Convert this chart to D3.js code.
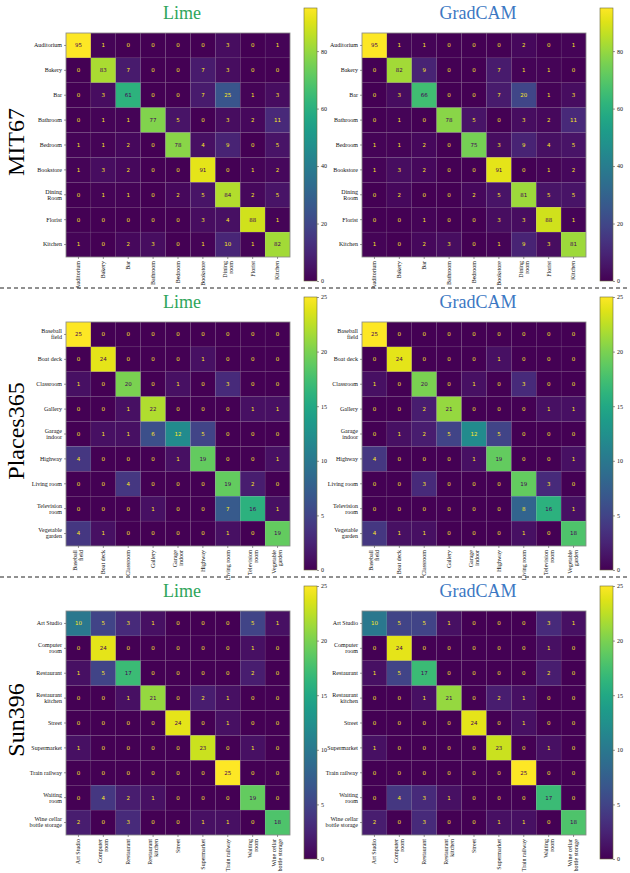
<!DOCTYPE html>
<html>
<head>
<meta charset="utf-8">
<script src="https://cdn.jsdelivr.net/npm/d3@7"></script>
<style>
  body { margin: 0; background: #fff; }
  svg { display: block; }
</style>
</head>
<body>
<div id="chart"></div>
<script>
const W = 630, H = 873;

// labels
const mitRowLabels = ["Auditorium", "Bakery", "Bar", "Bathroom", "Bedroom", "Bookstore", "Dining\nRoom", "Florist", "Kitchen"];
const mitColLabels = ["Auditorium", "Bakery", "Bar", "Bathroom", "Bedroom", "Bookstore", "Dining\nroom", "Florist", "Kitchen"];
const placesLabels = ["Baseball\nfield", "Boat deck", "Classroom", "Gallery", "Garage\nindoor", "Highway", "Living room", "Television\nroom", "Vegetable\ngarden"];
const sunLabels = ["Art Studio", "Computer\nroom", "Restaurant", "Restaurant\nkitchen", "Street", "Supermarket", "Train railway", "Waiting\nroom", "Wine cellar\nbottle storage"];

// confusion matrices
const mitLime = [
  [95, 1, 0, 0, 0, 0, 3, 0, 1],
  [0, 83, 7, 0, 0, 7, 3, 0, 0],
  [0, 3, 61, 0, 0, 7, 25, 1, 3],
  [0, 1, 1, 77, 5, 0, 3, 2, 11],
  [1, 1, 2, 0, 78, 4, 9, 0, 5],
  [1, 3, 2, 0, 0, 91, 0, 1, 2],
  [0, 1, 1, 0, 2, 5, 84, 2, 5],
  [0, 0, 0, 0, 0, 3, 4, 88, 1],
  [1, 0, 2, 3, 0, 1, 10, 1, 82]
];
const mitGradcam = [
  [95, 1, 1, 0, 0, 0, 2, 0, 1],
  [0, 82, 9, 0, 0, 7, 1, 1, 0],
  [0, 3, 66, 0, 0, 7, 20, 1, 3],
  [0, 1, 0, 78, 5, 0, 3, 2, 11],
  [1, 1, 2, 0, 75, 3, 9, 4, 5],
  [1, 3, 2, 0, 0, 91, 0, 1, 2],
  [0, 2, 0, 0, 2, 5, 81, 5, 5],
  [0, 0, 1, 0, 0, 3, 3, 88, 1],
  [1, 0, 2, 3, 0, 1, 9, 3, 81]
];
const placesLime = [
  [25, 0, 0, 0, 0, 0, 0, 0, 0],
  [0, 24, 0, 0, 0, 1, 0, 0, 0],
  [1, 0, 20, 0, 1, 0, 3, 0, 0],
  [0, 0, 1, 22, 0, 0, 0, 1, 1],
  [0, 1, 1, 6, 12, 5, 0, 0, 0],
  [4, 0, 0, 0, 1, 19, 0, 0, 1],
  [0, 0, 4, 0, 0, 0, 19, 2, 0],
  [0, 0, 0, 1, 0, 0, 7, 16, 1],
  [4, 1, 0, 0, 0, 0, 1, 0, 19]
];
const placesGradcam = [
  [25, 0, 0, 0, 0, 0, 0, 0, 0],
  [0, 24, 0, 0, 0, 1, 0, 0, 0],
  [1, 0, 20, 0, 1, 0, 3, 0, 0],
  [0, 0, 2, 21, 0, 0, 0, 1, 1],
  [0, 1, 2, 5, 12, 5, 0, 0, 0],
  [4, 0, 0, 0, 1, 19, 0, 0, 1],
  [0, 0, 3, 0, 0, 0, 19, 3, 0],
  [0, 0, 0, 0, 0, 0, 8, 16, 1],
  [4, 1, 1, 0, 0, 0, 1, 0, 18]
];
const sunLime = [
  [10, 5, 3, 1, 0, 0, 0, 5, 1],
  [0, 24, 0, 0, 0, 0, 0, 1, 0],
  [1, 5, 17, 0, 0, 0, 0, 2, 0],
  [0, 0, 1, 21, 0, 2, 1, 0, 0],
  [0, 0, 0, 0, 24, 0, 1, 0, 0],
  [1, 0, 0, 0, 0, 23, 0, 1, 0],
  [0, 0, 0, 0, 0, 0, 25, 0, 0],
  [0, 4, 2, 1, 0, 0, 0, 19, 0],
  [2, 0, 3, 0, 0, 1, 1, 0, 18]
];
const sunGradcam = [
  [10, 5, 5, 1, 0, 0, 0, 3, 1],
  [0, 24, 0, 0, 0, 0, 0, 1, 0],
  [1, 5, 17, 0, 0, 0, 0, 2, 0],
  [0, 0, 1, 21, 0, 2, 1, 0, 0],
  [0, 0, 0, 0, 24, 0, 1, 0, 0],
  [1, 0, 0, 0, 0, 23, 0, 1, 0],
  [0, 0, 0, 0, 0, 0, 25, 0, 0],
  [0, 4, 3, 1, 0, 0, 0, 17, 0],
  [2, 0, 3, 0, 0, 1, 1, 0, 18]
];

const methods = ["Lime", "GradCAM"];
const methodColors = ["#2ea55a", "#3c78c3"];
const colorbarMax = [95, 25, 25];
const colorbarTicks = [[0, 20, 40, 60, 80], [0, 5, 10, 15, 20, 25], [0, 5, 10, 15, 20, 25]];

const rows = [
  {name: "MIT67", rowLabels: mitRowLabels, colLabels: mitColLabels, mats: [mitLime, mitGradcam]},
  {name: "Places365", rowLabels: placesLabels, colLabels: placesLabels, mats: [placesLime, placesGradcam]},
  {name: "Sun396", rowLabels: sunLabels, colLabels: sunLabels, mats: [sunLime, sunGradcam]}
];

const size = 224;
const tops = [33, 322, 611];
const lefts = [66, 362];
const cbLefts = [304, 600];
const serif = "'Liberation Serif', 'DejaVu Serif', serif";

const svg = d3.select("#chart").append("svg")
  .attr("width", W)
  .attr("height", H);

// viridis gradient for colorbars
const grad = svg.append("defs").append("linearGradient")
  .attr("id", "viridis")
  .attr("x1", 0).attr("y1", 1).attr("x2", 0).attr("y2", 0);
d3.range(0, 1.0001, 0.05).forEach(t => {
  grad.append("stop").attr("offset", t).attr("stop-color", d3.interpolateViridis(t));
});

// multi-line tick labels
function splitLines(textSel, labels, xPos) {
  textSel.each(function(d) {
    const t = d3.select(this);
    const lines = labels[d].split("\n");
    t.text(null);
    lines.forEach((line, i) => {
      t.append("tspan")
        .attr("x", xPos)
        .attr("dy", i === 0 ? (0.32 - (lines.length - 1) * 0.5) + "em" : "1.0em")
        .text(line);
    });
  });
}

rows.forEach((row, r) => {
  const top = tops[r];
  const vmax = colorbarMax[r];
  const color = d3.scaleSequential(d3.interpolateViridis).domain([0, vmax]);

  row.mats.forEach((mat, m) => {
    const left = lefts[m];
    const g = svg.append("g").attr("transform", `translate(${left},${top})`);

    const x = d3.scaleBand().domain(d3.range(9)).range([0, size]);
    const y = d3.scaleBand().domain(d3.range(9)).range([0, size]);

    const cells = [];
    mat.forEach((rowVals, i) => rowVals.forEach((v, j) => cells.push({i, j, v})));

    g.selectAll("rect.cell")
      .data(cells)
      .join("rect")
      .attr("class", "cell")
      .attr("x", d => x(d.j))
      .attr("y", d => y(d.i))
      .attr("width", x.bandwidth())
      .attr("height", y.bandwidth())
      .attr("fill", d => color(d.v))
      .attr("stroke", "rgba(150,150,150,0.18)")
      .attr("stroke-width", 0.5);

    g.selectAll("text.val")
      .data(cells)
      .join("text")
      .attr("class", "val")
      .attr("x", d => x(d.j) + x.bandwidth() / 2)
      .attr("y", d => y(d.i) + y.bandwidth() / 2)
      .attr("dy", "0.35em")
      .attr("text-anchor", "middle")
      .style("font-family", "'DejaVu Sans', sans-serif")
      .style("font-size", "5.5px")
      .attr("fill", d => d.v > vmax / 2 ? "#440154" : "#fde725")
      .text(d => d.v);

    // frame
    g.append("rect")
      .attr("width", size).attr("height", size)
      .attr("fill", "none")
      .attr("stroke", "#8a8a8a")
      .attr("stroke-width", 0.8);

    // y axis
    const yAxis = g.append("g")
      .call(d3.axisLeft(y).tickSize(2));
    yAxis.select(".domain").remove();
    yAxis.selectAll("line").attr("stroke", "#333").attr("stroke-width", 0.5);
    yAxis.selectAll("text")
      .style("font-family", serif)
      .style("font-size", "6px")
      .attr("fill", "#111")
      .call(splitLines, row.rowLabels, -4);

    // x axis, rotated labels
    const xAxis = g.append("g")
      .attr("transform", `translate(0,${size})`)
      .call(d3.axisBottom(x).tickSize(2));
    xAxis.select(".domain").remove();
    xAxis.selectAll("line").attr("stroke", "#333").attr("stroke-width", 0.5);
    xAxis.selectAll("text")
      .attr("transform", "rotate(-90)")
      .attr("y", 0)
      .attr("dy", null)
      .style("text-anchor", "end")
      .style("font-family", serif)
      .style("font-size", "6px")
      .attr("fill", "#111")
      .call(splitLines, row.colLabels, -4);

    // title
    svg.append("text")
      .attr("x", left + size / 2 + 4)
      .attr("y", top - 14)
      .attr("text-anchor", "middle")
      .style("font-family", serif)
      .style("font-size", "18px")
      .attr("fill", methodColors[m])
      .text(methods[m]);

    // colorbar
    const cbTop = top - 25, cbBottom = top + size + 24, cbW = 13;
    const cb = svg.append("g").attr("transform", `translate(${cbLefts[m]},0)`);
    cb.append("rect")
      .attr("y", cbTop)
      .attr("width", cbW)
      .attr("height", cbBottom - cbTop)
      .attr("fill", "url(#viridis)")
      .attr("stroke", "#6b6b3a")
      .attr("stroke-width", 0.6);
    const cbScale = d3.scaleLinear().domain([0, vmax]).range([cbBottom, cbTop]);
    const cbAxis = cb.append("g")
      .attr("transform", `translate(${cbW},0)`)
      .call(d3.axisRight(cbScale).tickValues(colorbarTicks[r]).tickSize(2).tickPadding(2));
    cbAxis.select(".domain").remove();
    cbAxis.selectAll("line").attr("stroke", "#333").attr("stroke-width", 0.5);
    cbAxis.selectAll("text")
      .style("font-family", serif)
      .style("font-size", "6px")
      .attr("fill", "#111");
  });

  // dataset label
  svg.append("text")
    .attr("transform", `translate(24,${top + size / 2 - 3}) rotate(-90)`)
    .attr("text-anchor", "middle")
    .style("font-family", serif)
    .style("font-size", "24px")
    .attr("fill", "#000")
    .text(row.name);
});

// dashed separators
[288, 577].forEach(yy => {
  svg.append("line")
    .attr("x1", 0).attr("x2", W)
    .attr("y1", yy).attr("y2", yy)
    .attr("stroke", "#222")
    .attr("stroke-width", 1)
    .attr("stroke-dasharray", "4,3");
});
</script>
</body>
</html>
